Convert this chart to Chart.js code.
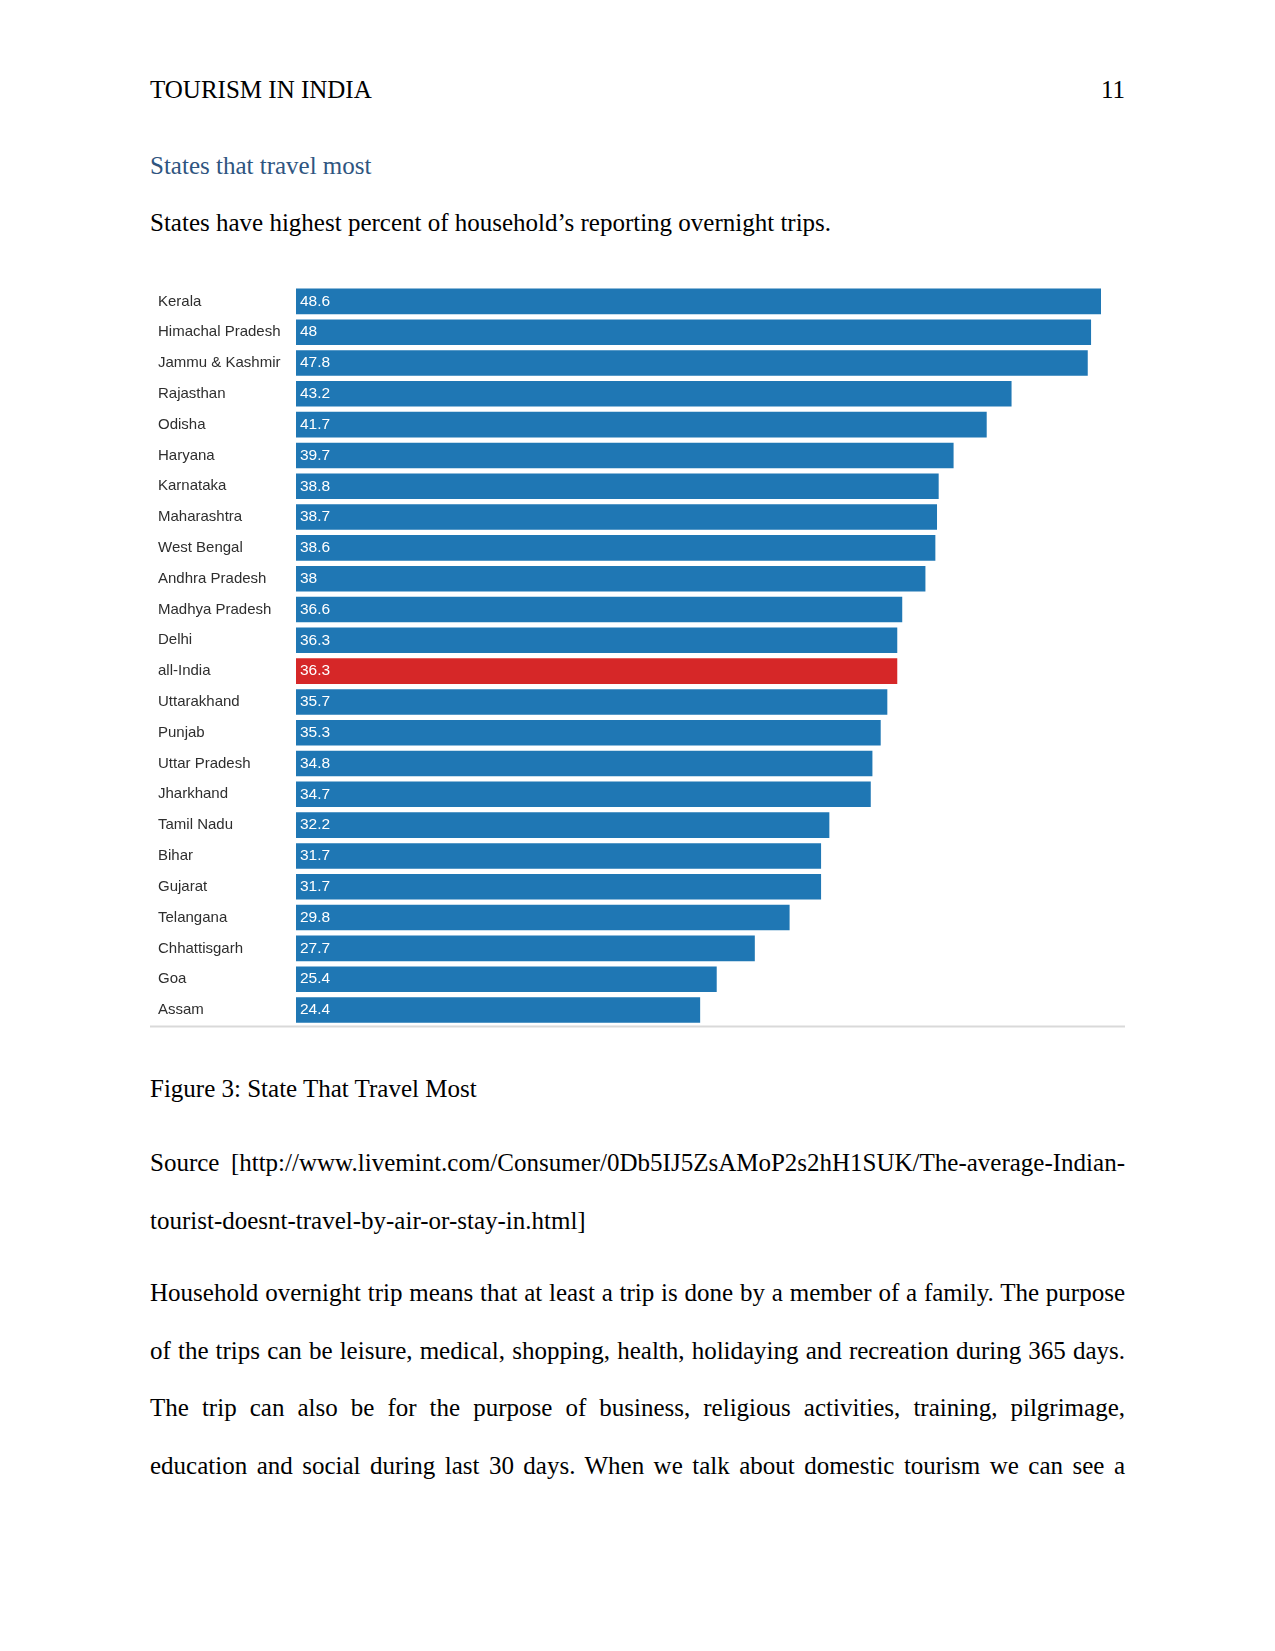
<!DOCTYPE html>
<html>
<head>
<meta charset="utf-8">
<script src="https://cdn.jsdelivr.net/npm/chart.js@4/dist/chart.umd.min.js"></script>
<style>
  html, body { margin: 0; padding: 0; background: #fff; }
  body { width: 1275px; height: 1651px; position: relative; overflow: hidden; }
  .t { position: absolute; left: 150px; width: 975px; font-family: "Liberation Serif", "Times New Roman", serif; font-size: 25px; line-height: 25px; color: #000; white-space: nowrap; }
  .j { text-align: justify; text-align-last: justify; white-space: normal; }
  #chartWrap { position: absolute; left: 150px; top: 273.6px; width: 975px; height: 763.4px; }
</style>
</head>
<body>
<div class="t" style="top:77px;">TOURISM IN INDIA</div>
<div class="t" style="top:77px; text-align:right;">11</div>
<div class="t" style="top:153px; color:#2f5580;">States that travel most</div>
<div class="t" style="top:209.5px;">States have highest percent of household’s reporting overnight trips.</div>

<div id="chartWrap"><canvas id="c"></canvas></div>

<div class="t" style="top:1076px;">Figure 3: State That Travel Most</div>
<div class="t j" style="top:1150px;">Source [http://www.livemint.com/Consumer/0Db5IJ5ZsAMoP2s2hH1SUK/The-average-Indian-</div>
<div class="t" style="top:1207.5px;">tourist-doesnt-travel-by-air-or-stay-in.html]</div>
<div class="t j" style="top:1280px;">Household overnight trip means that at least a trip is done by a member of a family. The purpose</div>
<div class="t j" style="top:1337.5px;">of the trips can be leisure, medical, shopping, health, holidaying and recreation during 365 days.</div>
<div class="t j" style="top:1395px;">The trip can also be for the purpose of business, religious activities, training, pilgrimage,</div>
<div class="t j" style="top:1452.5px;">education and social during last 30 days. When we talk about domestic tourism we can see a</div>

<script>
const categories = ["Kerala", "Himachal Pradesh", "Jammu & Kashmir", "Rajasthan", "Odisha", "Haryana", "Karnataka", "Maharashtra", "West Bengal", "Andhra Pradesh", "Madhya Pradesh", "Delhi", "all-India", "Uttarakhand", "Punjab", "Uttar Pradesh", "Jharkhand", "Tamil Nadu", "Bihar", "Gujarat", "Telangana", "Chhattisgarh", "Goa", "Assam"];
const values = [48.6, 48, 47.8, 43.2, 41.7, 39.7, 38.8, 38.7, 38.6, 38, 36.6, 36.3, 36.3, 35.7, 35.3, 34.8, 34.7, 32.2, 31.7, 31.7, 29.8, 27.7, 25.4, 24.4];
const highlight = "all-India";

const BLUE = "#1f77b4";
const RED = "#d62728";
const barColors = categories.map(c => c === highlight ? RED : BLUE);

const valueLabels = {
  id: "valueLabels",
  afterDatasetsDraw(chart) {
    const ctx = chart.ctx;
    const meta = chart.getDatasetMeta(0);
    ctx.save();
    ctx.fillStyle = "#ffffff";
    ctx.font = "15.5px 'Liberation Sans', Arial, sans-serif";
    ctx.textAlign = "left";
    ctx.textBaseline = "middle";
    meta.data.forEach((el, i) => {
      ctx.fillText(String(values[i]), el.base + 4, el.y);
    });
    ctx.restore();
  }
};

const bottomRule = {
  id: "bottomRule",
  afterDraw(chart) {
    const ctx = chart.ctx;
    const y = chart.chartArea.bottom + 1;
    ctx.save();
    ctx.strokeStyle = "#d9d9d9";
    ctx.lineWidth = 2;
    ctx.beginPath();
    ctx.moveTo(0, y);
    ctx.lineTo(chart.width, y);
    ctx.stroke();
    ctx.restore();
  }
};

new Chart(document.getElementById("c"), {
  type: "bar",
  data: {
    labels: categories,
    datasets: [{
      data: values,
      backgroundColor: barColors,
      borderWidth: 0,
      categoryPercentage: 1,
      barPercentage: 0.83
    }]
  },
  options: {
    indexAxis: "y",
    responsive: true,
    maintainAspectRatio: false,
    devicePixelRatio: 1,
    animation: false,
    layout: { padding: { top: 0, bottom: 0, left: 8, right: 24 } },
    plugins: { legend: { display: false }, tooltip: { enabled: false } },
    scales: {
      x: { display: false, min: 0, max: 48.6 },
      y: {
        grid: { display: false },
        border: { display: false },
        ticks: {
          autoSkip: false,
          crossAlign: "far",
          color: "#2e2e2e",
          font: { family: "'Liberation Sans', Arial, sans-serif", size: 15 }
        },
        afterFit(scale) { scale.width = 138; }
      }
    }
  },
  plugins: [valueLabels, bottomRule]
});
</script>
</body>
</html>
